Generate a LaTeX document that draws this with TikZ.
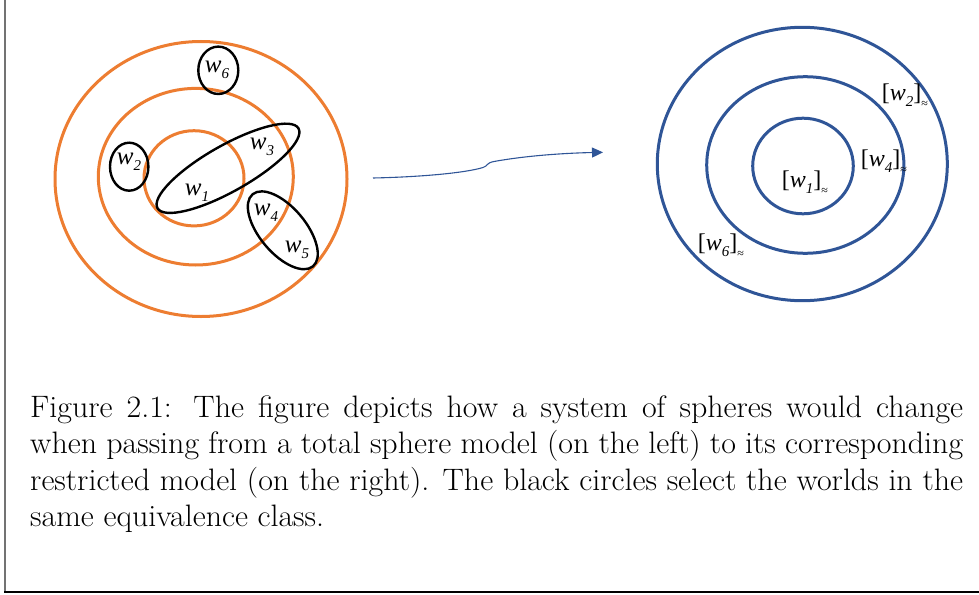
\documentclass[tikz,border=0pt]{standalone}
\usepackage{fontspec}
\usepackage{graphicx}
\usetikzlibrary{arrows.meta}
\newfontfamily\lblfont{Liberation Serif}
\definecolor{sphorange}{HTML}{ED7D31}
\definecolor{sphblue}{HTML}{2F5597}
\newcommand{\wlab}[1]{{\lblfont\itshape\fontsize{25}{25}\selectfont w\raisebox{-0.22em}{\fontsize{15}{15}\selectfont #1}}}
\newcommand{\clab}[1]{{\lblfont\fontsize{24}{24}\selectfont [\textit{w}\raisebox{-0.22em}{\itshape\fontsize{15}{15}\selectfont #1}]\raisebox{-0.3em}{\fontsize{12}{12}\selectfont ≈}}}
\newcommand{\capln}[1]{\scalebox{1.03}[1]{\makebox[905.8pt][s]{#1}}}
\tikzset{
  orangesph/.style={draw=sphorange, line width=3pt},
  bluesph/.style={draw=sphblue, line width=3pt},
  classell/.style={draw=black, line width=2.4pt},
  lbl/.style={inner sep=0pt, anchor=center},
  capline/.style={inner sep=0pt, anchor=base west, font=\fontsize{31}{36}\selectfont},
}
\begin{document}
\begin{tikzpicture}[x=1pt,y=-1pt]
\useasboundingbox (0,0) rectangle (979,594);
% frame
\draw[draw=gray!90!black, line width=2pt] (5,0) -- (5,593);
\draw[draw=black, line width=2pt] (4,592) -- (979,592);
% left spheres
\draw[orangesph] (201,179) ellipse [x radius=146pt, y radius=137.5pt];
\draw[orangesph] (195.8,176.7) ellipse [x radius=97.5pt, y radius=88.3pt];
\draw[orangesph] (194,178.3) ellipse [x radius=50pt, y radius=47.6pt];
% equivalence classes
\draw[classell] (218.3,70.3) ellipse [x radius=20pt, y radius=23.7pt];
\draw[classell] (129.2,166.7) ellipse [x radius=19.2pt, y radius=24pt];
\draw[classell, rotate around={29.5:(228,168.3)}] (228,168.3) ellipse [x radius=81pt, y radius=23pt];
\draw[classell, rotate around={-50:(282.8,230.3)}] (282.8,230.3) ellipse [x radius=47pt, y radius=23pt];
% left labels
\node[lbl] (w6) at (217,70) {\wlab{6}};
\node[lbl] (w2) at (129,162) {\wlab{2}};
\node[lbl] (w3) at (262,147) {\wlab{3}};
\node[lbl] (w1) at (197,193) {\wlab{1}};
\node[lbl] (w4) at (266,213) {\wlab{4}};
\node[lbl] (w5) at (297,250) {\wlab{5}};
% right spheres
\draw[bluesph] (802.3,164) ellipse [x radius=145pt, y radius=136.7pt];
\draw[bluesph] (805.3,165) ellipse [x radius=98.6pt, y radius=88.3pt];
\draw[bluesph] (803,166) ellipse [x radius=50.3pt, y radius=47.8pt];
% right labels
\node[lbl] (c2) at (905,96) {\clab{2}};
\node[lbl] (c4) at (884,162) {\clab{4}};
\node[lbl] (c1) at (805,183) {\clab{1}};
\node[lbl] (c6) at (721,246) {\clab{6}};
% arrow
\coordinate (arrS) at (373,178);
\coordinate (arrE) at (603,152.3);
\draw[draw=sphblue, line width=1.1pt, -{Triangle[length=11pt,width=10pt]}]
  (arrS) .. controls (420,177) and (465,173) .. (483,167.5)
  .. controls (488,166) and (486,163) .. (494,161.5)
  .. controls (530,155) and (570,153) .. (arrE);
% caption
\node[capline] (cap1) at (30,417) {\capln{Figure 2.1: The figure depicts how a system of spheres would change}};
\node[capline] (cap2) at (30,453.5) {\capln{when passing from a total sphere model (on the left) to its corresponding}};
\node[capline] (cap3) at (30,490) {\capln{restricted model (on the right). The black circles select the worlds in the}};
\node[capline] (cap4) at (30,526.5) {\scalebox{1.03}[1]{same equivalence class.}};
\end{tikzpicture}
\end{document}
